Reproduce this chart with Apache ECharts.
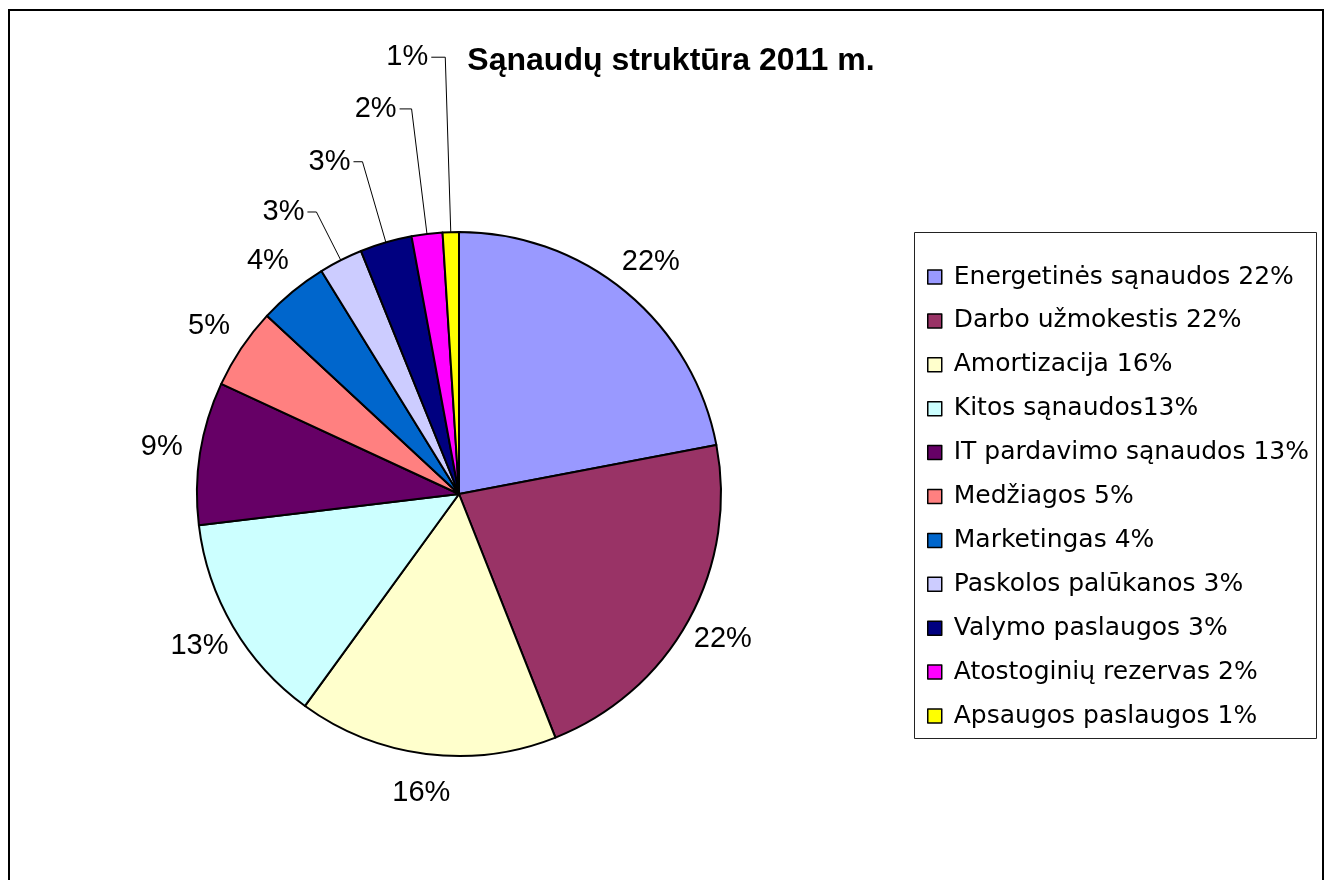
<!DOCTYPE html>
<html>
<head>
<meta charset="utf-8">
<script src="https://cdn.jsdelivr.net/npm/echarts@6/dist/echarts.min.js"></script>
<style>
  html, body { margin: 0; padding: 0; background: #fff; }
  #chart { width: 1324px; height: 880px; }
</style>
</head>
<body>
<div id="chart"></div>
<script>
var titleText = 'Sąnaudų struktūra 2011 m.';

var categories = [
  'Energetinės sąnaudos 22%',
  'Darbo užmokestis 22%',
  'Amortizacija 16%',
  'Kitos sąnaudos13%',
  'IT pardavimo sąnaudos 13%',
  'Medžiagos 5%',
  'Marketingas 4%',
  'Paskolos palūkanos 3%',
  'Valymo paslaugos 3%',
  'Atostoginių rezervas 2%',
  'Apsaugos paslaugos 1%'
];

// shares
var values = [22.0, 22.0, 16.0, 13.1, 8.8, 5.0, 4.3, 2.7, 3.2, 1.9, 1.0];

var colors = [
  '#9999FF', '#993366', '#FFFFCC', '#CCFFFF', '#660066', '#FF8080',
  '#0066CC', '#CCCCFF', '#000080', '#FF00FF', '#FFFF00'
];

// small slices at the top get elbow leader lines: [length, length2]
var leaders = { 7: [54, 9], 8: [84, 9], 9: [126, 12], 10: [175, 14] };

var pieData = categories.map(function (name, i) {
  var item = { name: name, value: values[i], itemStyle: { color: colors[i] } };
  if (leaders[i]) {
    item.labelLine = { show: true, length: leaders[i][0], length2: leaders[i][1] };
    item.label = { distanceToLabelLine: 3 };
  } else {
    item.labelLine = { show: false, length: 39, length2: 0 };
    item.label = { distanceToLabelLine: 0 };
  }
  return item;
});

var chart = echarts.init(document.getElementById('chart'));

chart.setOption({
  animation: false,
  backgroundColor: '#fff',
  title: {
    text: titleText,
    left: 671,
    top: 45,
    padding: 0,
    textAlign: 'center',
    textStyle: {
      fontFamily: 'Liberation Sans',
      fontWeight: 'bold',
      fontSize: 32,
      color: '#000'
    }
  },
  legend: {
    orient: 'vertical',
    left: 914,
    top: 232,
    padding: [30, 0, 0, 13],
    itemWidth: 14,
    itemHeight: 14,
    itemGap: 13.9,
    icon: 'rect',
    selectedMode: false,
    itemStyle: { borderColor: '#000', borderWidth: 1.5 },
    textStyle: {
      fontFamily: 'DejaVu Sans',
      fontSize: 25,
      lineHeight: 30,
      color: '#000',
      padding: [0, 0, 0, 7]
    },
    data: categories
  },
  graphic: [
    {
      type: 'rect',
      shape: { x: 9, y: 10, width: 1314, height: 900 },
      style: { fill: null, stroke: '#000', lineWidth: 2 },
      z: 0
    },
    {
      type: 'rect',
      shape: { x: 914.5, y: 232.5, width: 402, height: 506 },
      style: { fill: null, stroke: '#222', lineWidth: 1 },
      z: 10
    }
  ],
  series: [
    {
      type: 'pie',
      center: [459, 494],
      radius: 262,
      startAngle: 90,
      clockwise: true,
      avoidLabelOverlap: false,
      silent: true,
      itemStyle: { borderColor: '#000', borderWidth: 2 },
      label: {
        show: true,
        position: 'outside',
        fontFamily: 'Liberation Sans',
        fontSize: 29,
        color: '#000',
        formatter: function (p) { return Math.round(p.percent) + '%'; }
      },
      labelLine: {
        lineStyle: { color: '#000', width: 1 }
      },
      labelLayout: function (p) {
        return leaders[p.dataIndex] ? {} : { align: 'center' };
      },
      data: pieData
    }
  ]
});
</script>
</body>
</html>
